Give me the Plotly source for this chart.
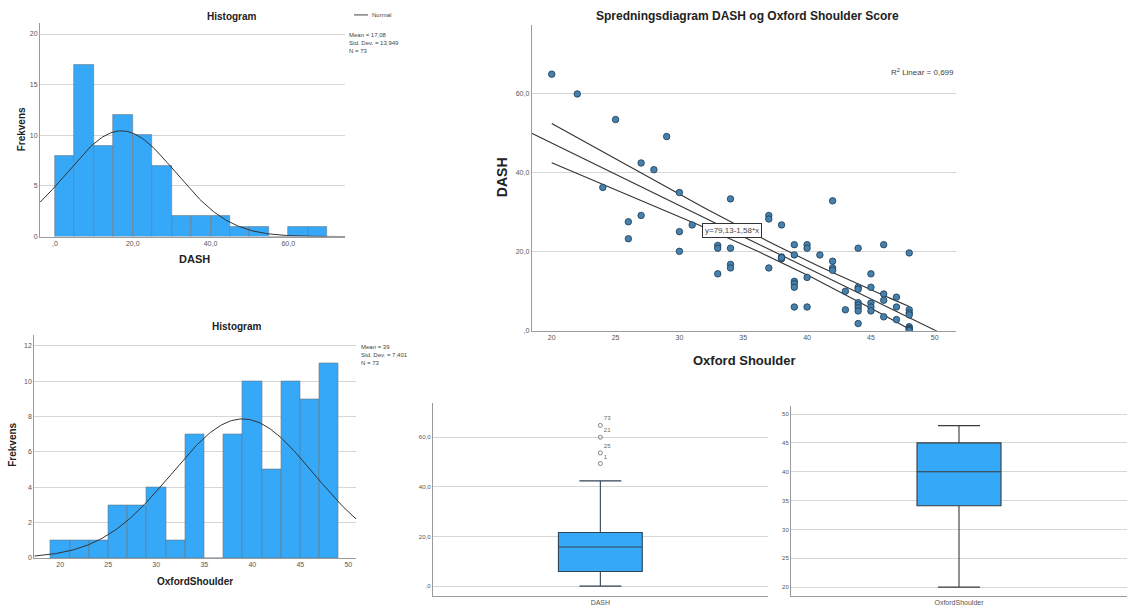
import numpy as np
import plotly.graph_objects as go

W, H = 1127, 611
FONT = "Liberation Sans, Arial, sans-serif"
BLUE = "#35a8f7"
GRID = "#d6d6d6"
AX = "#9a9a9a"
TICK = dict(size=7, color="#555", family=FONT)

# ---------------- data ----------------
# Histogram DASH (bin width 5, starting at 0)
dash_bin_start = [0, 5, 10, 15, 20, 25, 30, 35, 40, 45, 50, 55, 60, 65]
dash_counts = [8, 17, 9, 12, 10, 7, 2, 2, 2, 1, 1, 0, 1, 1]
dash_binw = 5
dash_mean, dash_sd, dash_n = 17.08, 13.949, 73

# Histogram OxfordShoulder (bin width 2, starting at 19)
ox_bin_start = [19, 21, 23, 25, 27, 29, 31, 33, 35, 37, 39, 41, 43, 45, 47]
ox_counts = [1, 1, 1, 3, 3, 4, 1, 7, 0, 7, 10, 5, 10, 9, 11]
ox_binw = 2
ox_mean, ox_sd, ox_n = 39, 7.401, 73

# Scatter DASH vs Oxford Shoulder
sc_ox = [20, 22, 24, 25, 26, 26, 27, 27, 28, 29, 30, 30, 30, 31,
         33, 33, 33, 34, 34, 34, 34, 37, 37, 37, 38, 38, 38, 38,
         39, 39, 39, 39, 39, 39, 40, 40, 40, 40, 41, 42, 42, 42, 42,
         43, 43, 44, 44, 44, 44, 44, 44, 44, 44, 45, 45, 45, 45, 45,
         46, 46, 46, 46, 47, 47, 47, 48, 48, 48, 48, 48, 48, 48, 48]
sc_dash = [65.0, 60.0, 36.3, 53.5, 27.6, 23.3, 42.5, 29.2, 40.8, 49.2, 35.0, 25.1, 20.1, 26.8,
           21.6, 20.9, 14.4, 33.4, 20.9, 16.8, 15.9, 29.2, 28.3, 15.9, 26.8, 18.7, 18.2, 18.5,
           21.8, 19.2, 12.5, 11.9, 11.0, 6.0, 21.8, 20.9, 13.5, 6.0, 19.2, 32.9, 17.6, 15.9, 15.3,
           10.0, 5.3, 20.9, 11.0, 10.5, 7.1, 6.5, 5.8, 5.0, 1.8, 14.4, 11.0, 7.0, 6.0, 5.0,
           21.8, 9.3, 7.7, 3.5, 8.5, 6.0, 2.8, 19.7, 5.3, 4.5, 4.0, 1.0, 0.6, 0.3, 0.0]
fit_intercept, fit_slope = 79.13, -1.58
fit_resid_sd, fit_t = 7.71, 1.994
r2_text = "R<sup>2</sup> Linear = 0,699"
eq_text = "y=79,13-1,58*x"

# Box plots (summary statistics)
box_dash = dict(q1=5.9, median=15.8, q3=21.6, lo=0.0, hi=42.4)
box_dash_out = [49.4, 53.7, 60.0, 64.8]
box_dash_out_lbl = ["1", "25", "21", "73"]
box_ox = dict(q1=34.1, median=40.0, q3=45.0, lo=20.0, hi=48.0)

# ---------------- helpers ----------------
def dx(a, b):
    return [a / W, b / W]

def dy(top, bottom):
    return [1 - bottom / H, 1 - top / H]

def normal_curve(mean, sd, n, bw, x0, x1):
    xs = np.linspace(x0, x1, 200)
    ys = n * bw / (sd * np.sqrt(2 * np.pi)) * np.exp(-0.5 * ((xs - mean) / sd) ** 2)
    return xs, ys

fig = go.Figure()

# ---------------- Histogram 1 (DASH) ----------------
h1x = [-3.86, 74.6]
fig.add_trace(go.Bar(x=[s + dash_binw / 2 for s in dash_bin_start], y=dash_counts, width=dash_binw,
                     marker=dict(color=BLUE, line=dict(color="#6a7884", width=0.6)),
                     xaxis="x", yaxis="y", showlegend=False))
nx, ny = normal_curve(dash_mean, dash_sd, dash_n, dash_binw, h1x[0], h1x[1])
fig.add_trace(go.Scatter(x=nx, y=ny, mode="lines", line=dict(color="#333", width=1),
                         xaxis="x", yaxis="y", showlegend=False))

# ---------------- Histogram 2 (Oxford) ----------------
h2x = [17.3, 50.8]
fig.add_trace(go.Bar(x=[s + ox_binw / 2 for s in ox_bin_start], y=ox_counts, width=ox_binw,
                     marker=dict(color=BLUE, line=dict(color="#6a7884", width=0.6)),
                     xaxis="x2", yaxis="y2", showlegend=False))
nx2, ny2 = normal_curve(ox_mean, ox_sd, ox_n, ox_binw, h2x[0], h2x[1])
fig.add_trace(go.Scatter(x=nx2, y=ny2, mode="lines", line=dict(color="#333", width=1),
                         xaxis="x2", yaxis="y2", showlegend=False))

# ---------------- Scatter ----------------
scx = [18.43, 51.64]
xs_line = np.linspace(scx[0], scx[1], 50)
fig.add_trace(go.Scatter(x=xs_line, y=fit_intercept + fit_slope * xs_line, mode="lines",
                         line=dict(color="#333", width=1.1), xaxis="x3", yaxis="y3", showlegend=False))
xo = np.array(sc_ox, dtype=float)
xbar = xo.mean()
sxx = ((xo - xbar) ** 2).sum()
xs_ci = np.linspace(xo.min(), xo.max(), 60)
se = fit_resid_sd * np.sqrt(1 / len(xo) + (xs_ci - xbar) ** 2 / sxx)
for sgn in (1, -1):
    fig.add_trace(go.Scatter(x=xs_ci, y=fit_intercept + fit_slope * xs_ci + sgn * fit_t * se,
                             mode="lines", line=dict(color="#333", width=1.1),
                             xaxis="x3", yaxis="y3", showlegend=False))
fig.add_trace(go.Scatter(x=sc_ox, y=sc_dash, mode="markers",
                         marker=dict(size=6.5, color="#4681ad", line=dict(color="#1e3a52", width=0.8)),
                         xaxis="x3", yaxis="y3", showlegend=False))

# ---------------- Box DASH ----------------
fig.add_trace(go.Box(x=["DASH"], q1=[box_dash["q1"]], median=[box_dash["median"]], q3=[box_dash["q3"]],
                     lowerfence=[box_dash["lo"]], upperfence=[box_dash["hi"]],
                     fillcolor=BLUE, line=dict(color="#2f4457", width=1.1), width=0.25, whiskerwidth=0.5,
                     xaxis="x4", yaxis="y4", showlegend=False))
fig.add_trace(go.Scatter(x=["DASH"] * len(box_dash_out), y=box_dash_out, mode="markers+text",
                         marker=dict(symbol="circle-open", size=4, color="#666", line=dict(width=0.8)),
                         text=box_dash_out_lbl, textposition="top right",
                         textfont=dict(size=6, color="#666", family=FONT),
                         xaxis="x4", yaxis="y4", showlegend=False, cliponaxis=False))

# ---------------- Box Oxford ----------------
fig.add_trace(go.Box(x=["OxfordShoulder"], q1=[box_ox["q1"]], median=[box_ox["median"]], q3=[box_ox["q3"]],
                     lowerfence=[box_ox["lo"]], upperfence=[box_ox["hi"]],
                     fillcolor=BLUE, line=dict(color="#3a3a3a", width=1.1), width=0.25, whiskerwidth=0.5,
                     xaxis="x5", yaxis="y5", showlegend=False))

# ---------------- axes ----------------
def xax(domain, rng, **kw):
    d = dict(domain=domain, range=rng, showgrid=False, zeroline=False, showline=True,
             linecolor=AX, linewidth=1, ticks="", tickfont=TICK, fixedrange=True)
    d.update(kw)
    return d

def yax(domain, rng, anchor, **kw):
    d = dict(domain=domain, range=rng, anchor=anchor, showgrid=True, gridcolor=GRID, gridwidth=1,
             zeroline=False, showline=True, linecolor=AX, linewidth=1, ticks="",
             tickfont=TICK, fixedrange=True)
    d.update(kw)
    return d

fig.update_layout(
    width=W, height=H, margin=dict(l=0, r=0, t=0, b=0),
    paper_bgcolor="white", plot_bgcolor="white", font=dict(family=FONT, color="#222"),
    bargap=0,
    xaxis=xax(dx(40, 345), h1x, anchor="y", tickvals=[0, 20, 40, 60],
              ticktext=[",0", "20,0", "40,0", "60,0"]),
    yaxis=yax(dy(23, 237.7), [0, 21.1], "x", tickvals=[0, 5, 10, 15, 20]),
    xaxis2=xax(dx(34.3, 356), h2x, anchor="y2", tickvals=[20, 25, 30, 35, 40, 45, 50]),
    yaxis2=yax(dy(337, 560.7), [0, 12.6], "x2", tickvals=[0, 2, 4, 6, 8, 10, 12]),
    xaxis3=xax(dx(531.7, 955.7), scx, anchor="y3", tickvals=[20, 25, 30, 35, 40, 45, 50]),
    yaxis3=yax(dy(25, 332.3), [0, 77.5], "x3", tickvals=[0, 20, 40, 60],
               ticktext=[",0", "20,0", "40,0", "60,0"]),
    xaxis4=xax(dx(432.7, 768), [-0.5, 0.5], anchor="y4", type="category"),
    yaxis4=yax(dy(405, 599), [-4, 73.8], "x4", tickvals=[0, 20, 40, 60],
               ticktext=[",0", "20,0", "40,0", "60,0"], tickfont=dict(size=6, color="#555", family=FONT)),
    xaxis5=xax(dx(791, 1127), [-0.5, 0.5], anchor="y5", type="category"),
    yaxis5=yax(dy(408, 599), [18.45, 51.4], "x5", tickvals=[20, 25, 30, 35, 40, 45, 50],
               tickfont=dict(size=6, color="#555", family=FONT)),
)

# ---------------- annotations ----------------
def ann(text, x, y, size, bold=False, angle=0, color="#222", xanchor="center", yanchor="middle", align="center"):
    return dict(text=f"<b>{text}</b>" if bold else text, x=x / W, y=1 - y / H, xref="paper", yref="paper",
                showarrow=False, font=dict(size=size, color=color, family=FONT), textangle=angle,
                xanchor=xanchor, yanchor=yanchor, align=align)

anns = [
    ann("Histogram", 232, 17, 10, True),
    ann("Frekvens", 21, 130, 10, True, -90),
    ann("DASH", 194, 260, 11, True),
    ann("Mean = 17,08<br>Std. Dev. = 13,949<br>N = 73", 347, 43, 6, color="#444", xanchor="left", align="left"),
    ann("Normal", 370, 15, 6, color="#444", xanchor="left"),
    ann("Histogram", 237, 328, 10, True),
    ann("Frekvens", 13, 447, 10, True, -90),
    ann("OxfordShoulder", 195, 584, 10, True),
    ann("Mean = 39<br>Std. Dev. = 7,401<br>N = 73", 359, 357, 6, color="#444", xanchor="left", align="left"),
    ann("Spredningsdiagram DASH og Oxford Shoulder Score", 747, 16, 12, True),
    ann("DASH", 502, 178, 14, True, -90),
    ann("Oxford Shoulder", 744, 362, 13, True),
    ann(r2_text, 956, 72, 8, color="#444", xanchor="right"),
]
anns.append(dict(text=eq_text, x=34.1, y=25.3, xref="x3", yref="y3", showarrow=False,
                 font=dict(size=8, color="#444", family=FONT), bgcolor="white",
                 bordercolor="#333", borderwidth=1, borderpad=2))
fig.update_layout(annotations=anns)
fig.add_shape(type="line", xref="paper", yref="paper", x0=354 / W, x1=368 / W, y0=1 - 15 / H, y1=1 - 15 / H,
              line=dict(color="#444", width=1))

fig.write_html("out.html")
